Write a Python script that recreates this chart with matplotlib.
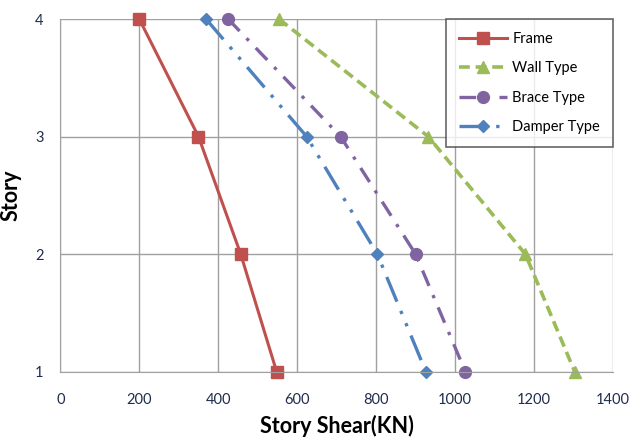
import matplotlib
matplotlib.use("Agg")
import matplotlib.pyplot as plt

plt.rcParams['font.family'] = ['Lato', 'DejaVu Sans']

stories = [4, 3, 2, 1]
frame = [200, 350, 457, 548]
wall = [554, 932, 1178, 1303]
brace = [425, 710, 900, 1026]
damper = [369, 624, 803, 926]

fig = plt.figure(figsize=(6.41, 4.42), dpi=100)
ax = fig.add_axes([60.3/641, 1 - 371.7/442, (613 - 60.3)/641, (371.7 - 19)/442])

ax.plot(frame, stories, color='#C0504D', lw=2.2, marker='s', ms=8, label='Frame', clip_on=False)
ax.plot(wall, stories, color='#9BBB59', lw=2.6, ls=(0, (3, 1.6)), marker='^', ms=8, label='Wall Type', clip_on=False)
ax.plot(brace, stories, color='#8064A2', lw=2.4, ls=(0, (5, 3, 1, 3)), marker='o', ms=8.5, label='Brace Type', clip_on=False)
ax.plot(damper, stories, color='#4F81BD', lw=2.4, ls=(0, (8, 3, 1, 3, 1, 3)), marker='D', ms=6.5, label='Damper Type', clip_on=False)

ax.set_xlim(0, 1400)
ax.set_ylim(1, 4)
ax.set_xticks(range(0, 1401, 200))
ax.set_yticks([1, 2, 3, 4])
ax.grid(True, color='#a0a0a0', lw=1)
ax.set_axisbelow(True)
for s in ['top', 'right']:
    ax.spines[s].set_visible(False)
for s in ['left', 'bottom']:
    ax.spines[s].set_color('#a0a0a0')
ax.tick_params(length=0, labelsize=10.5)
ax.tick_params(axis='x', pad=15)
ax.tick_params(axis='y', pad=12)
for lab in ax.get_xticklabels() + ax.get_yticklabels():
    lab.set_color('#1f2d4d')

ax.set_xlabel('Story Shear(KN)', fontsize=15.5, fontweight='bold', labelpad=6)
ax.set_ylabel('Story', fontsize=15.5, fontweight='bold', labelpad=10)

leg = ax.legend(loc='upper right', bbox_to_anchor=(1.0, 1.0), fontsize=10.5, frameon=True,
                fancybox=False, borderpad=0.9, labelspacing=1.05, handlelength=3.3,
                handletextpad=0.35, borderaxespad=0)
leg.get_frame().set_edgecolor('#404040')
leg.get_frame().set_linewidth(1.2)

fig.savefig('out.png', dpi=100)
